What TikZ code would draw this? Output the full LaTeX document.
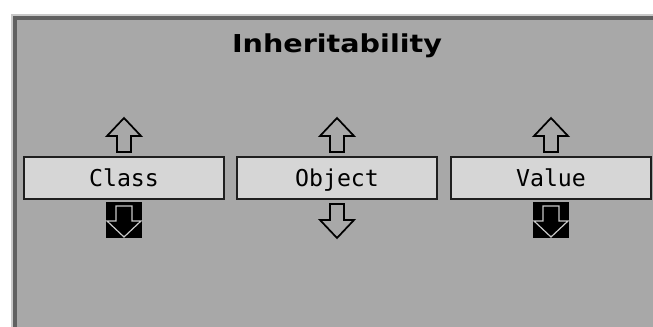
\documentclass[tikz,border=0pt]{standalone}
\usepackage{fontspec}
\newfontfamily\titlefont[FakeStretch=1.16]{DejaVu Sans}
\newfontfamily\labelfont{DejaVu Sans Mono}
\definecolor{panelgray}{RGB}{168,168,168}
\definecolor{boxgray}{RGB}{214,214,214}
\definecolor{edgedark}{RGB}{96,96,96}
\definecolor{edgelight}{RGB}{200,200,200}

\tikzset{
  attrbox/.style={draw=black!88, line width=1.5pt, fill=boxgray,
    minimum width=150pt, minimum height=31.5pt, inner sep=0pt,
    text height=12.75pt, text depth=0pt,
    font=\labelfont\fontsize{17.4}{20}\selectfont},
  arrowline/.style={line width=1.3pt, line join=miter},
  uparrow/.pic={
    \draw[arrowline, fill=panelgray] (-7,-4) -- (-7,-20) -- (-17,-20) -- (0,-38)
      -- (17,-20) -- (7,-20) -- (7,-4) -- cycle;},
  downarrow/.pic={
    \draw[arrowline, fill=panelgray] (-7,4) -- (-7,20) -- (-17,20) -- (0,38)
      -- (17,20) -- (7,20) -- (7,4) -- cycle;},
  downarrowon/.pic={
    \fill[black] (-18,2) rectangle (18,38);
    \draw[line width=0.9pt, draw=edgelight, fill=black] (-8,6) -- (-8,21) -- (-17,21)
      -- (0,37) -- (17,21) -- (8,21) -- (8,6) -- cycle;},
}

\begin{document}
\begin{tikzpicture}[x=0.75pt, y=-0.75pt]
    % page and window frame
    \fill[white] (0,0) rectangle (653,327);
    \path[use as bounding box] (0,0) rectangle (653,327);
    \fill[edgelight] (11,14) rectangle (653,327);
    \fill[edgedark] (13,16) rectangle (653,327);
    \fill[panelgray] (17,20) rectangle (653,327);

    \node[anchor=base, font=\titlefont\bfseries\fontsize{18.5}{22}\selectfont] (title) at (337,53) {Inheritability};

    % the three settings
    \node[attrbox] (class) at (124,178) {Class};
    \node[attrbox] (object) at (337,178) {Object};
    \node[attrbox] (value) at (551,178) {Value};

    % up and down buttons
    \pic at (class.north) {uparrow};
    \pic at (object.north) {uparrow};
    \pic at (value.north) {uparrow};
    \pic at (class.south) {downarrowon};
    \pic at (object.south) {downarrow};
    \pic at (value.south) {downarrowon};
\end{tikzpicture}
\end{document}
